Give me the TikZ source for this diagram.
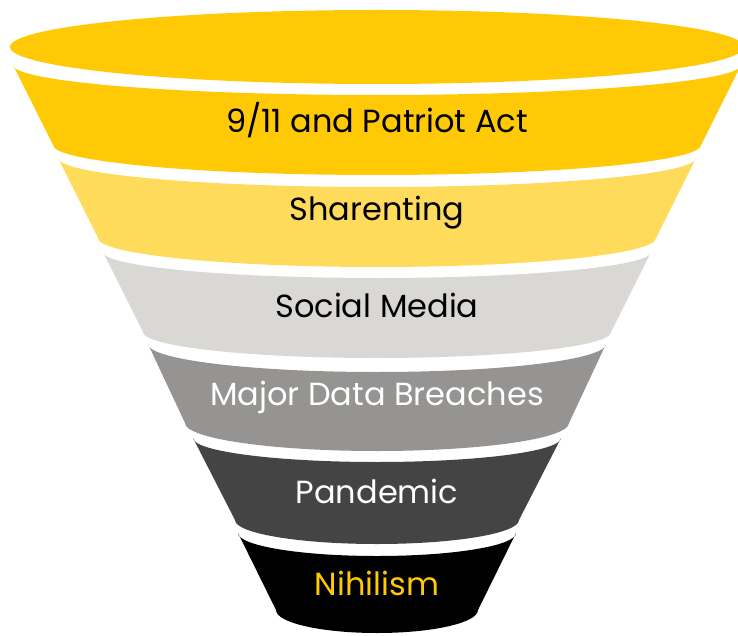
\documentclass[tikz,border=0pt]{standalone}
\usepackage{fontspec}
\setmainfont{Poppins}
\usetikzlibrary{positioning}
\definecolor{fyellow}{RGB}{255,201,5}
\definecolor{flight}{RGB}{255,219,92}
\definecolor{fpale}{RGB}{217,216,212}
\definecolor{fgrey}{RGB}{149,148,146}
\definecolor{fdark}{RGB}{68,68,68}
\tikzstyle{bandtext}=[inner sep=0pt, text centered, font=\fontsize{32}{36}\selectfont]
% #1 name, #2 fill, #3 text colour, #4 top y, #5 top half width,
% #6 bottom y, #7 bottom half width, #8 curve depth, #9 text
\newcommand\fband[9]{
            \fill[#2] (377-#5,#4) arc[start angle=180, end angle=0, x radius=#5, y radius=#8]
                -- (377+#7,#6) arc[start angle=0, end angle=180, x radius=#7, y radius=#8] -- cycle;
            \node (#1) [bandtext, text=#3] at (377,{(#4+#6)/2+#8/2}) {#9};
        }

\begin{document}
\begin{tikzpicture}[x=1pt, y=-1pt]

    \useasboundingbox (0,0) rectangle (738,636);

%top rim
    \fill[fyellow] (377,47) ellipse [x radius=367, y radius=37];

    \fband{t911}{fyellow}{black}{65}{364}{145}{324}{30}{9/11 and Patriot Act}
    \fband{share}{flight}{black}{158}{319}{238}{279}{29}{Sharenting}
    \fband{social}{fpale}{black}{252}{274}{332}{234}{26}{Social Media}
    \fband{breach}{fgrey}{white}{344}{229}{423}{192}{28}{Major Data Breaches}
    \fband{pandemic}{fdark}{white}{438}{184}{520}{142}{24}{Pandemic}
    \fband{nihil}{black}{fyellow}{533}{139}{610}{101}{23}{Nihilism}

\end{tikzpicture}
\end{document}
